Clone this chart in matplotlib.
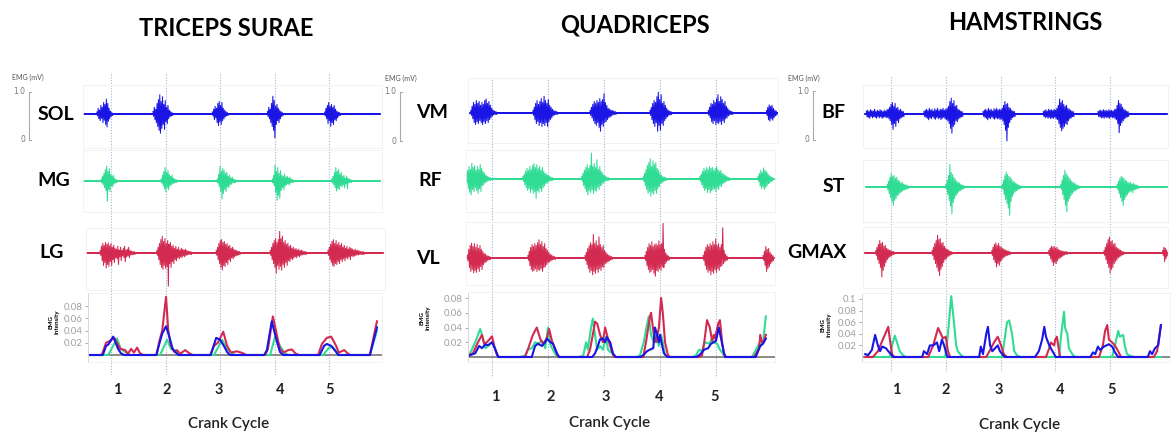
import numpy as np
import matplotlib
matplotlib.use('Agg')
import matplotlib.pyplot as plt
from matplotlib.lines import Line2D

W, H = 1173, 432
plt.rcParams['font.family'] = ['Lato', 'DejaVu Sans']

BLUE = '#1a14e4'
GREEN = '#30dc94'
RED = '#d22a50'

STEP = 0.025  # crank cycles between raw EMG envelope samples

# ---------------- raw EMG (burst onset in crank cycles, envelope in 0.01 mV) ----------------
sol_span, sol_noise = (0.47, 5.94), 0.02
sol_start = [0.74, 1.77, 2.86, 3.87, 4.92]
sol_up = [[4, 12, 8, 18, 14, 24, 20, 31, 22, 12, 6, 3],
          [5, 14, 10, 22, 30, 40, 26, 36, 20, 28, 14, 18, 8, 5, 3],
          [4, 10, 16, 12, 22, 26, 18, 24, 12, 8, 5, 3],
          [5, 14, 10, 22, 37, 28, 16, 20, 12, 8, 5, 3],
          [4, 12, 18, 24, 16, 20, 14, 18, 10, 6, 4, 3]]
sol_down = [[4, 10, 14, 9, 18, 13, 22, 27, 15, 10, 5, 3],
            [5, 12, 18, 26, 34, 40, 30, 22, 32, 16, 20, 10, 6, 4, 3],
            [4, 12, 8, 18, 24, 16, 22, 14, 10, 6, 4, 3],
            [5, 10, 18, 26, 34, 50, 22, 14, 18, 10, 5, 3],
            [4, 10, 20, 14, 26, 18, 22, 12, 14, 8, 4, 3]]

mg_span, mg_noise = (0.47, 5.94), 0.015
mg_start = [0.82, 1.92, 2.95, 3.96, 5.05]
mg_up = [[4, 10, 16, 24, 31, 20, 26, 14, 10, 12, 5, 3],
         [4, 12, 20, 28, 18, 22, 14, 10, 12, 6, 4, 3],
         [4, 14, 31, 20, 26, 22, 16, 18, 10, 12, 6, 8, 4, 3],
         [4, 12, 33, 20, 28, 16, 22, 12, 10, 14, 8, 10, 6, 8, 4, 3],
         [4, 10, 18, 28, 20, 24, 14, 18, 10, 12, 6, 10, 5, 4, 3]]
mg_down = [[4, 8, 14, 20, 42, 18, 22, 10, 12, 6, 4, 3],
           [4, 10, 16, 23, 14, 18, 10, 8, 6, 5, 3, 3],
           [4, 12, 20, 37, 26, 18, 22, 12, 14, 8, 6, 4, 4, 3],
           [4, 10, 24, 40, 30, 36, 20, 14, 18, 10, 8, 6, 8, 4, 3, 3],
           [4, 8, 14, 21, 16, 18, 10, 12, 8, 14, 6, 16, 4, 3, 3]]

lg_span, lg_noise = (0.54, 5.99), 0.02
lg_start = [0.80, 1.84, 2.93, 3.92, 4.98]
lg_up = [[5, 14, 20, 16, 22, 18, 21, 15, 20, 12, 16, 10, 8, 14, 6, 12, 5, 10, 14, 6, 8, 12, 5, 4, 3, 3],
         [5, 12, 20, 28, 35, 24, 30, 20, 26, 18, 22, 14, 16, 10, 14, 8, 12, 6, 10, 8, 6, 8, 5, 4, 3, 3],
         [5, 12, 20, 26, 28, 22, 24, 18, 20, 14, 16, 10, 12, 8, 6, 5, 4, 3],
         [5, 12, 20, 26, 30, 22, 28, 45, 30, 35, 22, 26, 18, 20, 14, 16, 10, 12, 8, 10, 6, 8, 5, 6, 4, 3, 3],
         [5, 12, 18, 24, 28, 20, 26, 18, 22, 16, 20, 12, 16, 10, 14, 8, 12, 10, 8, 6, 8, 5, 6, 4, 3, 3, 3]]
lg_down = [[5, 16, 26, 20, 31, 24, 28, 18, 26, 14, 20, 10, 12, 24, 8, 16, 6, 10, 18, 8, 6, 10, 4, 4, 3, 3],
           [5, 14, 24, 30, 34, 26, 32, 28, 69, 22, 30, 18, 22, 14, 16, 10, 12, 8, 10, 6, 8, 5, 4, 3, 3, 3],
           [5, 14, 22, 30, 35, 26, 28, 20, 24, 14, 18, 10, 12, 8, 6, 5, 4, 3],
           [5, 14, 22, 30, 42, 26, 34, 28, 36, 24, 30, 20, 26, 16, 18, 12, 14, 10, 8, 10, 6, 8, 5, 4, 3, 3, 3],
           [5, 14, 20, 26, 28, 22, 24, 18, 22, 14, 18, 12, 16, 10, 12, 8, 14, 6, 8, 6, 5, 4, 4, 3, 3, 3, 3]]

vm_span, vm_noise = (0.61, 6.10), 0.02
vm_start = [0.62, 1.73, 2.75, 3.82, 4.86, 5.90]
vm_up = [[5, 14, 22, 18, 26, 20, 24, 16, 22, 18, 26, 29, 20, 24, 16, 10, 6, 4, 3],
         [5, 12, 20, 26, 18, 24, 30, 22, 35, 26, 20, 28, 16, 12, 8, 5, 4, 3],
         [5, 12, 18, 24, 20, 26, 22, 30, 24, 28, 40, 22, 16, 10, 8, 6, 5, 4, 3],
         [5, 12, 20, 26, 22, 34, 43, 28, 38, 20, 24, 16, 10, 6, 4, 3],
         [5, 12, 20, 18, 26, 22, 30, 38, 24, 34, 28, 20, 24, 14, 10, 6, 4, 3],
         [5, 12, 17, 14, 16, 10, 6, 4]]
vm_down = [[5, 12, 20, 24, 18, 22, 16, 20, 24, 18, 22, 16, 20, 14, 10, 6, 4, 3, 3],
           [5, 14, 22, 18, 26, 20, 28, 22, 26, 20, 28, 18, 14, 10, 6, 4, 3, 3],
           [5, 10, 16, 22, 26, 20, 30, 38, 24, 28, 20, 18, 14, 10, 8, 6, 4, 3, 3],
           [5, 14, 22, 28, 20, 38, 26, 36, 22, 26, 16, 12, 8, 5, 4, 3],
           [5, 10, 18, 22, 16, 24, 20, 22, 18, 24, 16, 20, 12, 10, 6, 4, 3, 3],
           [5, 14, 17, 12, 15, 10, 6, 4]]

rf_span, rf_noise = (0.54, 6.03), 0.025
rf_start = [0.54, 1.55, 2.60, 3.70, 4.71, 5.75]
rf_up = [[8, 18, 26, 20, 33, 24, 28, 18, 26, 20, 30, 22, 16, 12, 8, 6, 4, 3],
         [5, 10, 16, 22, 18, 26, 20, 28, 32, 24, 30, 22, 26, 18, 24, 16, 12, 10, 8, 6, 4, 3],
         [5, 12, 18, 24, 30, 22, 28, 54, 26, 32, 24, 40, 20, 26, 16, 12, 8, 6, 4, 3],
         [5, 12, 20, 28, 34, 42, 26, 38, 30, 34, 22, 18, 12, 8, 5, 4, 3],
         [5, 10, 16, 22, 18, 24, 20, 26, 22, 24, 18, 22, 26, 20, 16, 18, 12, 10, 8, 6, 4, 3],
         [5, 12, 18, 14, 23, 18, 16, 12, 8, 5, 4]]
rf_down = [[8, 20, 28, 33, 22, 26, 18, 24, 30, 20, 26, 14, 12, 8, 6, 4, 3, 3],
           [5, 12, 18, 24, 20, 28, 22, 30, 26, 40, 24, 28, 20, 26, 18, 14, 10, 8, 6, 4, 3, 3],
           [5, 14, 20, 26, 33, 24, 28, 22, 30, 24, 26, 18, 22, 14, 12, 8, 6, 4, 3, 3],
           [5, 14, 22, 30, 26, 36, 28, 32, 24, 30, 20, 16, 10, 8, 5, 4, 3],
           [5, 12, 18, 24, 20, 28, 22, 29, 24, 22, 20, 26, 18, 22, 14, 16, 10, 8, 6, 4, 3, 3],
           [5, 14, 20, 16, 22, 18, 14, 10, 8, 5, 4]]

vl_span, vl_noise = (0.56, 6.03), 0.02
vl_start = [0.56, 1.64, 2.66, 3.73, 4.77, 5.84]
vl_up = [[6, 18, 26, 31, 24, 30, 22, 28, 20, 26, 18, 14, 10, 8, 5, 4, 3],
         [5, 14, 22, 28, 24, 30, 26, 32, 38, 28, 34, 24, 30, 20, 16, 12, 8, 6, 4, 3],
         [5, 12, 20, 26, 32, 28, 49, 30, 36, 26, 44, 28, 22, 26, 16, 12, 8, 6, 4, 3],
         [5, 14, 22, 30, 26, 34, 24, 28, 30, 26, 36, 28, 30, 72, 18, 10, 6, 4],
         [5, 14, 22, 28, 24, 30, 26, 34, 28, 40, 26, 30, 22, 28, 63, 16, 8, 4],
         [5, 14, 24, 18, 20, 12, 8, 5]]
vl_down = [[6, 20, 28, 24, 31, 26, 30, 22, 28, 18, 24, 14, 10, 8, 5, 4, 3],
           [5, 16, 24, 28, 26, 22, 28, 24, 26, 22, 28, 20, 18, 14, 10, 8, 6, 4, 3, 3],
           [5, 14, 22, 30, 26, 35, 28, 32, 24, 30, 22, 26, 18, 20, 12, 10, 8, 6, 4, 3],
           [5, 16, 24, 30, 28, 24, 32, 38, 26, 28, 22, 26, 18, 20, 12, 8, 5, 4],
           [5, 16, 24, 30, 26, 35, 28, 32, 24, 30, 22, 26, 18, 16, 12, 8, 5, 4],
           [5, 16, 28, 22, 18, 12, 8, 5]]

bf_span, bf_noise = (0.53, 6.04), 0.03
bf_start = [0.55, 1.60, 2.68, 3.78, 4.78]
bf_up = [[6, 8, 5, 9, 7, 6, 10, 5, 8, 6, 9, 7, 5, 8, 6, 9, 10, 14, 20, 24, 16, 22, 12, 14, 8, 10, 6, 5],
         [5, 8, 10, 7, 12, 8, 10, 6, 11, 8, 12, 7, 10, 9, 12, 8, 10, 12, 16, 26, 33, 22, 28, 16, 18, 10, 8, 6, 5],
         [5, 8, 10, 7, 12, 8, 10, 6, 11, 9, 12, 8, 10, 9, 12, 18, 26, 20, 22, 14, 12, 8, 6, 5],
         [5, 7, 9, 6, 10, 8, 9, 7, 10, 8, 12, 18, 31, 24, 28, 20, 16, 18, 12, 10, 8, 6, 5],
         [5, 7, 8, 6, 9, 7, 8, 6, 9, 7, 8, 6, 9, 10, 18, 28, 22, 20, 14, 10, 8, 6, 5]]
bf_down = [[6, 7, 9, 5, 8, 6, 7, 9, 5, 8, 6, 9, 7, 6, 8, 7, 10, 14, 22, 32, 20, 26, 14, 18, 10, 8, 6, 5],
           [5, 7, 9, 12, 8, 10, 6, 9, 11, 7, 10, 8, 12, 9, 7, 10, 12, 14, 20, 30, 40, 26, 22, 14, 16, 10, 8, 6, 5],
           [5, 7, 9, 12, 8, 10, 6, 9, 11, 8, 10, 9, 12, 10, 14, 22, 34, 56, 28, 18, 12, 8, 6, 5],
           [5, 8, 6, 9, 7, 10, 8, 9, 7, 10, 12, 20, 28, 35, 30, 26, 20, 22, 14, 10, 8, 6, 5],
           [5, 6, 8, 7, 9, 6, 8, 7, 9, 6, 8, 7, 10, 12, 20, 39, 24, 18, 14, 10, 8, 6, 5]]

st_span, st_noise = (0.54, 6.04), 0.02
st_start = [0.93, 2.00, 3.03, 4.10, 5.13]
st_up = [[5, 12, 20, 28, 22, 24, 18, 20, 14, 12, 8, 10, 6, 5, 4, 3],
         [5, 14, 24, 47, 30, 26, 20, 16, 12, 10, 8, 6, 4, 3],
         [5, 14, 24, 31, 26, 22, 20, 16, 12, 10, 8, 6, 4, 3],
         [5, 14, 24, 35, 28, 24, 20, 16, 12, 10, 8, 6, 4, 3],
         [5, 12, 18, 22, 20, 18, 14, 12, 10, 8, 10, 6, 8, 5, 4, 3]]
st_down = [[5, 14, 22, 30, 38, 28, 24, 18, 16, 12, 10, 8, 6, 5, 4, 3],
           [5, 16, 28, 40, 56, 32, 24, 18, 14, 10, 8, 6, 4, 3],
           [5, 16, 26, 34, 44, 59, 30, 20, 14, 10, 8, 6, 4, 3],
           [5, 16, 26, 38, 52, 30, 24, 18, 14, 10, 8, 6, 4, 3],
           [5, 14, 22, 30, 38, 26, 20, 16, 12, 10, 8, 12, 6, 5, 4, 3]]

gmax_span, gmax_noise = (0.53, 6.04), 0.025
gmax_start = [0.72, 1.75, 2.84, 3.88, 4.89, 5.96]
gmax_up = [[5, 12, 18, 26, 20, 22, 14, 16, 10, 8, 6, 5, 4, 3],
           [5, 12, 20, 26, 37, 28, 30, 20, 22, 14, 10, 8, 6, 4, 3],
           [5, 12, 18, 21, 16, 20, 14, 12, 10, 8, 6, 5, 4, 3],
           [5, 10, 14, 12, 14, 10, 12, 8, 6, 5, 4, 3, 3, 3],
           [5, 12, 20, 28, 33, 24, 26, 18, 20, 12, 10, 8, 6, 4, 3],
           [5, 12, 10, 6]]
gmax_down = [[5, 14, 22, 30, 50, 36, 28, 20, 14, 10, 8, 6, 4, 3],
             [5, 14, 22, 30, 38, 47, 34, 28, 20, 14, 12, 8, 6, 4, 3],
             [5, 14, 20, 29, 22, 26, 18, 14, 10, 8, 6, 5, 4, 3],
             [5, 12, 18, 26, 20, 22, 16, 12, 10, 8, 6, 4, 3, 3],
             [5, 14, 22, 30, 42, 34, 30, 22, 18, 14, 10, 8, 6, 4, 3],
             [5, 18, 12, 6]]

# ---------------- EMG intensity (crank cycle, intensity) ----------------
int_sol_x = [0.58, 0.85, 0.91, 0.95, 1.04, 1.13, 1.18, 1.24, 1.83, 1.86, 1.94, 2.01, 2.07, 2.13, 2.20, 2.24,
             2.83, 2.93, 3.00, 3.07, 3.13, 3.18, 3.81, 3.86, 3.95, 4.05, 4.10, 4.16,
             4.83, 4.91, 4.96, 5.04, 5.13, 5.17, 5.75, 5.88]
int_sol_y = [0, 0, 0.015, 0.017, 0.030, 0.010, 0.003, 0, 0, 0.010, 0.035, 0.047, 0.030, 0.010, 0.003, 0,
             0, 0.028, 0.025, 0.015, 0.005, 0, 0, 0.008, 0.055, 0.020, 0.005, 0,
             0, 0.015, 0.018, 0.015, 0.005, 0, 0, 0.045]
int_mg_x = [0.58, 0.95, 1.11, 1.18, 1.26, 1.35, 1.90, 2.03, 2.10, 2.17, 2.27, 2.89, 3.04, 3.13, 3.20, 3.28,
            3.92, 4.01, 4.10, 4.19, 4.25, 4.89, 5.00, 5.07, 5.15, 5.20, 5.75, 5.88]
int_mg_y = [0, 0, 0.027, 0.010, 0.005, 0, 0, 0.025, 0.010, 0.008, 0, 0, 0.025, 0.010, 0.004, 0,
            0, 0.030, 0.015, 0.003, 0, 0, 0.012, 0.013, 0.004, 0, 0, 0.040]
int_lg_x = [0.58, 0.83, 0.91, 0.96, 1.06, 1.17, 1.26, 1.31, 1.37, 1.42, 1.48, 1.53, 1.59,
            1.84, 1.88, 1.94, 2.01, 2.05, 2.10, 2.16, 2.21, 2.27, 2.36, 2.45, 2.50,
            2.82, 2.89, 2.96, 3.06, 3.13, 3.20, 3.31, 3.42, 3.48,
            3.83, 3.88, 3.97, 4.05, 4.10, 4.17, 4.25, 4.32, 4.39, 4.45,
            4.80, 4.87, 4.96, 5.04, 5.13, 5.18, 5.28, 5.35, 5.39, 5.75, 5.88]
int_lg_y = [0, 0, 0.020, 0.022, 0.028, 0.010, 0.008, 0.002, 0.010, 0.004, 0.012, 0.003, 0,
            0, 0.020, 0.040, 0.095, 0.040, 0.015, 0.005, 0.008, 0.002, 0.008, 0.002, 0,
            0, 0.015, 0.020, 0.038, 0.015, 0.004, 0.006, 0.003, 0,
            0, 0.010, 0.063, 0.030, 0.010, 0.004, 0.008, 0.009, 0.002, 0,
            0, 0.018, 0.028, 0.030, 0.015, 0.004, 0.008, 0.002, 0, 0, 0.055]

int_vm_x = [0.52, 0.70, 0.77, 0.82, 0.88, 0.93, 1.00, 1.05, 1.11,
            1.71, 1.77, 1.82, 1.89, 1.95, 1.98, 2.04, 2.09, 2.16, 2.20,
            2.79, 2.84, 2.89, 2.93, 2.98, 3.02, 3.05, 3.11, 3.16, 3.21,
            3.65, 3.71, 3.77, 3.82, 3.88, 3.91, 3.95, 3.98, 4.00, 4.04, 4.07, 4.13,
            4.65, 4.71, 4.79, 4.86, 4.91, 4.96, 5.00, 5.05, 5.09, 5.13, 5.16,
            5.71, 5.79, 5.84, 5.89]
int_vm_y = [0, 0.005, 0.015, 0.012, 0.017, 0.016, 0.020, 0.012, 0,
            0, 0.015, 0.018, 0.015, 0.020, 0.025, 0.020, 0.018, 0.005, 0,
            0, 0.005, 0.015, 0.024, 0.025, 0.020, 0.027, 0.020, 0.005, 0,
            0, 0.003, 0.008, 0.010, 0.012, 0.040, 0.030, 0.020, 0.030, 0.015, 0.005, 0,
            0, 0.003, 0.010, 0.012, 0.018, 0.020, 0.022, 0.040, 0.025, 0.010, 0,
            0, 0.015, 0.018, 0.025]
int_rf_x = [0.52, 0.61, 0.70, 0.79, 0.84, 0.88, 0.93, 1.00, 1.02, 1.07, 1.11,
            1.50, 1.59, 1.64, 1.71, 1.77, 1.82, 1.89, 1.95, 2.00, 2.05, 2.09, 2.16,
            2.55, 2.63, 2.68, 2.71, 2.77, 2.80, 2.84, 2.88, 2.93, 2.98, 3.04, 3.07, 3.14, 3.20,
            3.58, 3.64, 3.71, 3.77, 3.80, 3.84, 3.89, 3.93, 3.98, 4.02, 4.05, 4.09, 4.13,
            4.58, 4.64, 4.70, 4.75, 4.80, 4.88, 4.93, 4.96, 5.02, 5.07, 5.14, 5.16,
            5.64, 5.70, 5.77, 5.80, 5.84, 5.89]
int_rf_y = [0.002, 0.005, 0.020, 0.038, 0.025, 0.012, 0.015, 0.020, 0.018, 0.008, 0,
            0, 0.002, 0.010, 0.012, 0.020, 0.018, 0.022, 0.012, 0.040, 0.015, 0.010, 0,
            0, 0.002, 0.020, 0.010, 0.040, 0.052, 0.030, 0.010, 0.015, 0.010, 0.028, 0.010, 0.005, 0,
            0, 0.002, 0.020, 0.045, 0.055, 0.030, 0.020, 0.030, 0.015, 0.030, 0.020, 0.003, 0,
            0, 0.002, 0.010, 0.008, 0.020, 0.018, 0.025, 0.020, 0.018, 0.010, 0.003, 0,
            0, 0.008, 0.018, 0.015, 0.020, 0.055]
int_vl_x = [0.52, 0.66, 0.75, 0.82, 0.86, 0.91, 1.00, 1.04, 1.09, 1.13,
            1.59, 1.64, 1.73, 1.80, 1.86, 1.91, 1.98, 2.02, 2.07, 2.13, 2.18,
            2.70, 2.75, 2.80, 2.84, 2.88, 2.93, 2.98, 3.02, 3.07, 3.13, 3.18,
            3.70, 3.75, 3.82, 3.84, 3.89, 3.93, 3.98, 4.02, 4.05, 4.09, 4.14, 4.18,
            4.70, 4.75, 4.79, 4.84, 4.89, 4.93, 4.96, 4.98, 5.04, 5.07, 5.11, 5.14, 5.18,
            5.68, 5.77, 5.79, 5.82, 5.86, 5.89]
int_vl_y = [0, 0.005, 0.020, 0.030, 0.018, 0.020, 0.028, 0.015, 0.003, 0,
            0, 0.010, 0.030, 0.040, 0.025, 0.018, 0.025, 0.038, 0.022, 0.010, 0,
            0, 0.010, 0.030, 0.048, 0.045, 0.030, 0.020, 0.040, 0.025, 0.010, 0,
            0, 0.020, 0.055, 0.060, 0.030, 0.020, 0.040, 0.080, 0.060, 0.020, 0.003, 0,
            0, 0.002, 0.020, 0.050, 0.040, 0.022, 0.030, 0.025, 0.045, 0.050, 0.020, 0.005, 0,
            0, 0.012, 0.030, 0.020, 0.022, 0.030]

int_bf_x = [0.53, 0.58, 0.65, 0.71, 0.76, 0.80, 0.84, 0.91, 0.95, 1.00, 1.04,
            1.57, 1.60, 1.66, 1.71, 1.77, 1.84, 1.88, 1.93, 1.97, 2.02, 2.04,
            2.61, 2.64, 2.68, 2.74, 2.77, 2.81, 2.85, 2.90, 2.95, 2.99, 3.05, 3.08,
            3.63, 3.70, 3.76, 3.80, 3.83, 3.89, 3.92, 3.98, 4.01,
            4.64, 4.69, 4.73, 4.78, 4.82, 4.89, 4.98, 5.04, 5.09, 5.15,
            5.69, 5.73, 5.77, 5.82, 5.88, 5.93]
int_bf_y = [0.005, 0.003, 0.012, 0.038, 0.020, 0.010, 0.018, 0.015, 0.010, 0.005, 0,
            0, 0.010, 0.005, 0.020, 0.020, 0.025, 0.010, 0.030, 0.020, 0.003, 0,
            0, 0.018, 0.005, 0.040, 0.052, 0.020, 0.010, 0.015, 0.020, 0.010, 0.003, 0,
            0, 0.010, 0.030, 0.052, 0.035, 0.020, 0.015, 0.005, 0,
            0, 0.008, 0.005, 0.018, 0.012, 0.018, 0.022, 0.018, 0.008, 0,
            0, 0.010, 0.005, 0.015, 0.020, 0.055]
int_st_x = [0.53, 0.98, 1.02, 1.07, 1.11, 1.16, 1.22, 1.27, 1.99, 2.04, 2.10, 2.15, 2.19, 2.22, 2.28, 2.32,
            3.03, 3.06, 3.12, 3.16, 3.21, 3.25, 3.30, 3.36, 4.07, 4.11, 4.16, 4.18, 4.22, 4.25, 4.31, 4.36,
            5.04, 5.09, 5.15, 5.18, 5.24, 5.27, 5.31, 5.37, 5.44, 5.93]
int_st_y = [0, 0, 0.020, 0.037, 0.025, 0.010, 0.003, 0, 0, 0.040, 0.105, 0.060, 0.020, 0.010, 0.003, 0,
            0, 0.020, 0.060, 0.063, 0.040, 0.010, 0.003, 0, 0, 0.040, 0.078, 0.050, 0.040, 0.015, 0.005, 0,
            0, 0.020, 0.045, 0.035, 0.038, 0.020, 0.005, 0.002, 0, 0]
int_gmax_x = [0.53, 0.67, 0.76, 0.85, 0.95, 0.98, 1.02, 1.06, 1.68, 1.77, 1.86, 1.91, 1.95, 2.00, 2.04, 2.08,
              2.74, 2.81, 2.88, 2.95, 3.01, 3.06, 3.12, 3.83, 3.89, 3.92, 3.98, 4.00, 4.03, 4.07, 4.09,
              4.80, 4.87, 4.91, 4.95, 4.98, 5.04, 5.09, 5.16, 5.20, 5.80, 5.86, 5.93]
int_gmax_y = [0, 0, 0.010, 0.030, 0.052, 0.030, 0.005, 0, 0, 0.020, 0.050, 0.040, 0.032, 0.035, 0.010, 0,
              0, 0.012, 0.025, 0.035, 0.020, 0.005, 0, 0, 0.015, 0.025, 0.020, 0.030, 0.035, 0.010, 0,
              0, 0.020, 0.045, 0.055, 0.030, 0.025, 0.020, 0.008, 0, 0, 0.010, 0.055]

titles = ['TRICEPS SURAE', 'QUADRICEPS', 'HAMSTRINGS']
muscles = [['SOL', 'MG', 'LG'], ['VM', 'RF', 'VL'], ['BF', 'ST', 'GMAX']]
cycle_labels = ['1', '2', '3', '4', '5']

raw = {
    'SOL': (sol_span, sol_noise, sol_start, sol_up, sol_down),
    'MG': (mg_span, mg_noise, mg_start, mg_up, mg_down),
    'LG': (lg_span, lg_noise, lg_start, lg_up, lg_down),
    'VM': (vm_span, vm_noise, vm_start, vm_up, vm_down),
    'RF': (rf_span, rf_noise, rf_start, rf_up, rf_down),
    'VL': (vl_span, vl_noise, vl_start, vl_up, vl_down),
    'BF': (bf_span, bf_noise, bf_start, bf_up, bf_down),
    'ST': (st_span, st_noise, st_start, st_up, st_down),
    'GMAX': (gmax_span, gmax_noise, gmax_start, gmax_up, gmax_down),
}
intensity = {
    'SOL': (int_sol_x, int_sol_y), 'MG': (int_mg_x, int_mg_y), 'LG': (int_lg_x, int_lg_y),
    'VM': (int_vm_x, int_vm_y), 'RF': (int_rf_x, int_rf_y), 'VL': (int_vl_x, int_vl_y),
    'BF': (int_bf_x, int_bf_y), 'ST': (int_st_x, int_st_y), 'GMAX': (int_gmax_x, int_gmax_y),
}
colors = [BLUE, GREEN, RED]

# ---------------- layout (pixels) ----------------
MV = 48.0  # px per mV
layout = [
    dict(line1=111, ppc=54.5, title=(226, 28), emg=(12, 77), bar=(29, 92, 140),
         boxes=[(83, 85, 382, 148, 114), (83, 150, 382, 212, 181), (86, 228, 385, 290, 253)],
         names=[(56, 114), (54, 181), (52, 253)],
         ibox=(88, 293, 382, 362), base=355, ppu=612.5, ticks=[0.02, 0.04, 0.06, 0.08], ylab=(54, 322),
         vl=(72, 375), num_y=390, num_x=[1.11, 2.03, 2.98, 4.10, 5.02], crank=(229, 424)),
    dict(line1=492, ppc=56.0, title=(635, 25), emg=(385, 78), bar=(400, 92, 141),
         boxes=[(468, 78, 778, 143, 113), (466, 150, 775, 212, 179), (466, 222, 775, 285, 258)],
         names=[(432, 113), (430, 181), (428, 258)],
         ibox=(468, 292, 775, 362), base=357, ppu=737.5, ticks=[0.02, 0.04, 0.06, 0.08], ylab=(425, 318),
         vl=(78, 378), num_y=397, num_x=[1.05, 2.04, 3.04, 3.98, 4.98], crank=(610, 423)),
    dict(line1=891, ppc=54.75, title=(1025, 22), emg=(788, 78), bar=(813, 91, 140),
         boxes=[(863, 85, 1168, 148, 114), (863, 160, 1168, 222, 187), (863, 227, 1168, 288, 253)],
         names=[(833, 113), (834, 186), (817, 253)],
         ibox=(862, 293, 1170, 362), base=357, ppu=580.0, ticks=[0.02, 0.04, 0.06, 0.08, 0.1], ylab=(826, 325),
         vl=(75, 372), num_y=390, num_x=[1.09, 2.00, 2.97, 4.09, 5.02], crank=(1020, 425)),
]

fig = plt.figure(figsize=(W / 100, H / 100), dpi=100)


def px_axes(x0, y0, x1, y1):
    return fig.add_axes([x0 / W, 1 - y1 / H, (x1 - x0) / W, (y1 - y0) / H], facecolor='none')


def ftext(x, y, s, **kw):
    fig.text(x / W, 1 - y / H, s, **kw)


def fline(xs, ys, **kw):
    fig.add_artist(Line2D([x / W for x in xs], [1 - y / H for y in ys], **kw))


for ci, L in enumerate(layout):
    cyc = lambda px: 1 + (px - L['line1']) / L['ppc']

    # dotted cycle markers
    ov = px_axes(L['ibox'][0], L['vl'][0], L['ibox'][2], L['vl'][1])
    ov.set_xlim(cyc(L['ibox'][0]), cyc(L['ibox'][2]))
    for k in range(1, 6):
        ov.axvline(k, color='#9fb6da', lw=0.8, ls=(0, (1, 1.5)))
    ov.axis('off')

    ftext(*L['title'], titles[ci], ha='center', va='center', fontsize=17, fontweight='bold')

    # mV scale bar
    ftext(*L['emg'], 'EMG (mV)', ha='left', va='center', fontsize=5, color='#555555')
    bx, bt, bb = L['bar']
    fline([bx + 2, bx, bx, bx + 2], [bt, bt, bb, bb], color='#aaaaaa', lw=0.8)
    ftext(bx - 4, bt, '1.0', ha='right', va='center', fontsize=5.5, color='#777777',
          family=['DejaVu Sans'])
    ftext(bx - 4, bb, '0', ha='right', va='center', fontsize=5.5, color='#777777',
          family=['DejaVu Sans'])

    # raw EMG traces
    for mi, name in enumerate(muscles[ci]):
        x0, y0, x1, y1, yc = L['boxes'][mi]
        ax = px_axes(x0, y0, x1, y1)
        ax.set_xlim(cyc(x0), cyc(x1))
        ax.set_ylim(-(y1 - yc) / MV, (yc - y0) / MV)
        span, noise, starts, ups, downs = raw[name]
        col = colors[mi]
        ax.fill_between(span, -noise, noise, color=col, lw=0)
        ax.plot(span, [0, 0], color=col, lw=1.3)
        for s, up, dn in zip(starts, ups, downs):
            n = min(len(up), len(dn))
            u = np.array(up[:n]) / 100
            d = np.array(dn[:n]) / 100
            x = s + STEP * np.arange(n)
            xs = np.column_stack([x, x + STEP / 2]).ravel()
            ys = np.column_stack([u, -d]).ravel()
            ax.plot(xs, ys, color=col, lw=0.75)
        ax.set_xticks([])
        ax.set_yticks([])
        for sp in ax.spines.values():
            sp.set_color('#f0f0f0')
            sp.set_linewidth(0.6)
        ftext(*L['names'][mi], name, ha='center', va='center', fontsize=14, fontweight='bold')

    # EMG intensity panel
    x0, y0, x1, y1 = L['ibox']
    ia = px_axes(x0, y0, x1, y1)
    ia.set_xlim(cyc(x0), cyc(x1))
    ia.set_ylim(-(y1 - L['base']) / L['ppu'], (L['base'] - y0) / L['ppu'])
    ia.axhline(0, color='#777777', lw=1.2, zorder=1)
    for mi, name in zip([1, 2, 0], [muscles[ci][1], muscles[ci][2], muscles[ci][0]]):
        xs, ys = intensity[name]
        ia.plot(xs, ys, color=colors[mi], lw=1.5, zorder=2)
    ia.set_xticks([])
    ia.set_yticks(L['ticks'])
    ia.set_yticklabels([f'{t:g}' for t in L['ticks']])
    ia.tick_params(axis='y', length=2, width=0.6, pad=2, labelsize=7, colors='#a0a0a0')
    for side, sp in ia.spines.items():
        sp.set_color('#d8d8d8' if side == 'left' else '#f2f2f2')
        sp.set_linewidth(0.7)
    ftext(*L['ylab'], 'EMG\nIntensity', ha='center', va='center', rotation=90,
          fontsize=4.5, fontweight='bold', linespacing=1.1)

    # crank cycle numbers
    for lab, cx in zip(cycle_labels, L['num_x']):
        px = L['line1'] + (cx - 1) * L['ppc']
        ftext(px, L['num_y'], lab, ha='center', va='center', fontsize=10.5, fontweight='bold', color='#222222')
    ftext(*L['crank'], 'Crank Cycle', ha='center', va='center', fontsize=11, fontweight='semibold',
          color='#222222')

fig.savefig('out.png', dpi=100)
